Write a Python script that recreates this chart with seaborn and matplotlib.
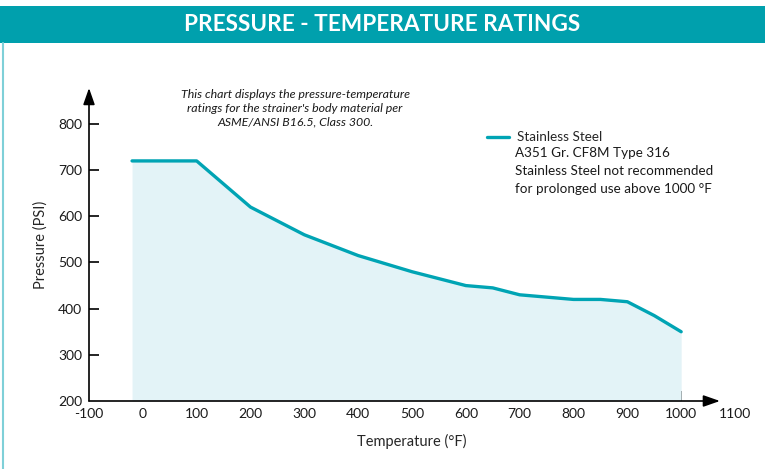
import matplotlib
matplotlib.use("Agg")
import matplotlib.pyplot as plt
import seaborn as sns
import pandas as pd
from matplotlib.patches import Rectangle
from matplotlib.lines import Line2D

# data
temps = [-20, 100, 200, 300, 400, 500, 600, 650, 700, 800, 850, 900, 950, 1000]
pressures = [720, 720, 620, 560, 515, 480, 450, 445, 430, 420, 420, 415, 385, 350]
x_ticks = [-100, 0, 100, 200, 300, 400, 500, 600, 700, 800, 900, 1000, 1100]
y_ticks = [200, 300, 400, 500, 600, 700, 800]

df = pd.DataFrame({"Temperature": temps, "Pressure": pressures})

teal = "#00A0AD"
line_col = "#00A4B4"
fill_col = "#E3F3F7"

sns.set_style("white")
plt.rcParams["font.family"] = ["Lato", "DejaVu Sans"]
plt.rcParams["axes.unicode_minus"] = False

fig = plt.figure(figsize=(7.65, 4.69), dpi=100)

# header bar + left border
fig.patches.append(Rectangle((0.0, 1 - 43 / 469), 1.0, 37 / 469, transform=fig.transFigure,
                             facecolor=teal, edgecolor="none"))
fig.lines.append(Line2D([2.5 / 765, 2.5 / 765], [0, 1 - 43 / 469], transform=fig.transFigure,
                        color="#7FD0D8", lw=1.5))
fig.text(0.5, 1 - 24.5 / 469, "PRESSURE - TEMPERATURE RATINGS", color="white",
         fontsize=16.3, fontweight="bold", ha="center", va="center")

ax = fig.add_axes([89 / 765, 1 - 401 / 469, 646 / 765, 313 / 469])
ax.set_xlim(-100, 1100)
ax.set_ylim(200, 200 + 313 / 0.4617)

ax.fill_between(df["Temperature"], df["Pressure"], 200, color=fill_col, lw=0)
sns.lineplot(data=df, x="Temperature", y="Pressure", ax=ax, color=line_col, lw=2.4,
             label="Stainless Steel")

for s in ax.spines.values():
    s.set_visible(False)

# axes with arrowheads
ax.annotate("", xy=(1072, 200), xytext=(-100, 200),
            arrowprops=dict(arrowstyle="-|>,head_length=1.0,head_width=0.35", color="black",
                            lw=1.2, shrinkA=0, shrinkB=0), annotation_clip=False)
ax.annotate("", xy=(-100, 200 + 313 / 0.4617), xytext=(-100, 200),
            arrowprops=dict(arrowstyle="-|>,head_length=1.0,head_width=0.35", color="black",
                            lw=1.2, shrinkA=0, shrinkB=0), annotation_clip=False)

ax.set_xticks(x_ticks)
ax.set_yticks(y_ticks)
ax.tick_params(axis="both", direction="in", length=7, width=1.2, color="black",
               labelsize=10, pad=5, labelcolor="#1a1a1a")
ax.tick_params(axis="x", bottom=True)
ax.tick_params(axis="y", left=True)
# no tick marks at the axis corner / beyond the arrow
for t, v in zip(ax.xaxis.get_major_ticks(), x_ticks):
    if v in (-100, 1100):
        t.tick1line.set_visible(False)
for t, v in zip(ax.yaxis.get_major_ticks(), y_ticks):
    if v == 200:
        t.tick1line.set_visible(False)

ax.set_xlabel("Temperature (°F)", fontsize=10.5, labelpad=10)
ax.set_ylabel("Pressure (PSI)", fontsize=10.5, labelpad=7)

ax.text(283, 834.6, "This chart displays the pressure-temperature\nratings for the strainer's body material per\nASME/ANSI B16.5, Class 300.",
        fontsize=8.9, style="italic", ha="center", va="center", linespacing=1.3, color="#1a1a1a")

leg = ax.legend(loc="upper left", bbox_to_anchor=((482 - 89) / 646, (401 - 126) / 313),
                frameon=False, fontsize=9.7, handlelength=1.6, handletextpad=0.6,
                borderaxespad=0)
fig.text(515 / 765, 1 - 147 / 469,
         "A351 Gr. CF8M Type 316\nStainless Steel not recommended\nfor prolonged use above 1000 °F",
         fontsize=9.7, va="top", ha="left", linespacing=1.6, color="#1a1a1a")

fig.savefig("out.png", dpi=100)
